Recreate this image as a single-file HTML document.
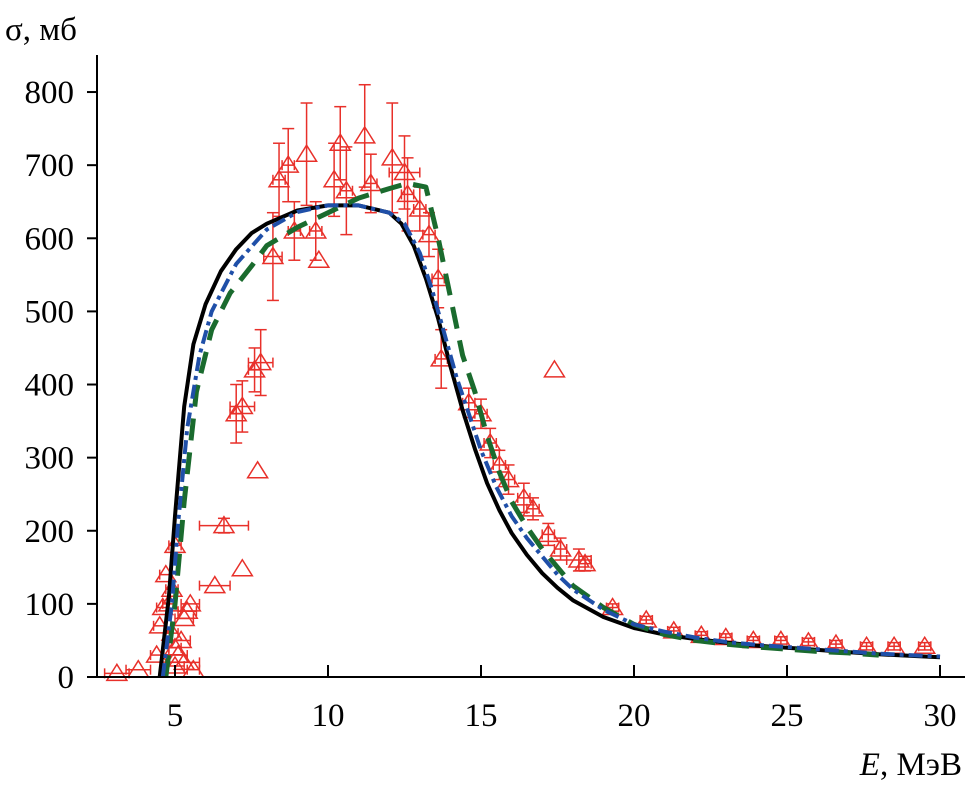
<!DOCTYPE html>
<html><head><meta charset="utf-8">
<style>
body{margin:0;background:#fff;}
svg text{font-family:"Liberation Serif","DejaVu Serif",serif;fill:#000;}
</style></head>
<body>
<svg id="chart" width="969" height="790" viewBox="0 0 969 790" xmlns="http://www.w3.org/2000/svg">
<g id="plot"></g>
<g id="axes"></g>
</svg>
<script>
const xTicks=[5,10,15,20,25,30];
const yTicks=[0,100,200,300,400,500,600,700,800];
const expE=[3.1,3.8,4.4,4.5,4.6,4.7,4.8,4.9,5.0,4.9,5.0,5.1,5.2,5.3,5.4,5.5,5.6,5.0,5.3,6.3,6.6,7.2,7.0,7.2,7.7,7.6,7.8,8.2,8.4,8.7,8.9,9.3,9.7,9.6,10.2,10.4,10.6,11.2,11.4,12.1,12.5,12.6,13.0,13.3,13.6,13.7,14.6,15.0,15.3,15.6,15.9,16.4,16.7,17.2,17.6,17.4,18.2,18.4,19.3,20.4,21.3,22.2,23.0,23.9,24.8,25.7,26.6,27.6,28.5,29.5];
const expS=[5,10,30,70,95,140,100,120,180,60,40,30,50,80,90,100,10,15,20,125,207,148,360,370,282,420,430,575,680,700,610,715,570,610,680,730,665,740,675,710,690,660,640,605,545,435,375,360,320,290,270,245,230,195,175,420,160,155,95,78,63,57,54,50,50,48,45,42,42,42];
const expDE=[0.4,0.4,0.2,0.2,0.2,0.2,0.2,0.2,0.2,0.2,0.2,0.3,0.3,0.3,0.3,0.3,0.2,0.3,0.5,0.5,0.8,0,0.2,0.4,0,0.2,0.4,0.3,0.2,0.2,0.2,0,0,0.2,0,0,0.2,0,0.2,0,0.5,0.2,0.2,0.2,0.2,0.2,0.2,0.2,0.2,0.2,0.2,0.2,0.2,0.2,0.2,0,0.4,0.2,0.2,0.2,0.2,0.2,0.2,0.2,0.2,0.2,0.2,0.2,0.2,0.2];
const expDS=[0,0,0,0,0,0,0,0,0,0,0,0,0,0,0,0,0,0,0,0,10,0,40,35,0,30,45,60,50,50,40,70,0,40,50,50,60,70,40,75,50,50,30,30,40,40,20,20,20,20,20,20,15,15,15,0,15,10,5,5,5,5,5,5,5,5,5,5,5,5];
const blackE=[4.5,4.8,5.0,5.3,5.6,6,6.5,7,7.5,8,9,10,11,12,12.4,12.8,13.2,13.6,14,14.4,14.8,15.2,15.6,16,16.5,17,17.5,18,19,20,21,22,23,24,25,26,27,28,29,30];
const blackS=[0,110,220,370,455,510,555,585,607,620,638,645,645,635,620,590,545,490,425,365,312,265,228,197,167,142,122,105,82,67,58,52,47,43,40,37,34,31,29,27];
const blueE=[4.6,4.9,5.1,5.4,5.8,6.2,7,8,9,10,11,12,12.5,13,13.4,13.8,14.2,14.6,15,15.5,16,16.5,17,17.5,18,19,20,21,22,23,24,25,26,27,28,29,30];
const blueS=[0,100,210,340,440,500,565,612,636,645,645,635,620,580,530,470,410,360,310,260,220,190,165,140,120,92,72,62,54,48,44,41,38,35,32,30,28];
const greenE=[4.7,5.0,5.3,5.7,6.2,6.8,7.5,8,9,10,11,12,12.6,13.2,13.6,14,14.4,14.8,15.2,15.6,16,16.5,17,17.5,18,19,20,21,22,23,24,25,26,27,28];
const greenS=[0,100,240,390,475,525,562,590,615,635,655,668,675,670,600,520,440,390,330,280,240,205,175,150,125,95,72,58,50,45,41,38,35,33,30];

const NS='http://www.w3.org/2000/svg';
const X0=97,X1=965,Y0=677,YT=55;
function sx(e){return 175+(e-5)*30.6;}
function sy(s){return 677-s*0.7312;}
function mk(tag,attrs,parent){const el=document.createElementNS(NS,tag);for(const k in attrs)el.setAttribute(k,attrs[k]);parent.appendChild(el);return el;}
const plot=document.getElementById('plot'),axes=document.getElementById('axes');

for(let i=0;i<expE.length;i++){
  const g=mk('g',{},plot);
  
  
  const cx=sx(expE[i]),cy=sy(expS[i]);
  const st={stroke:'#e8302a','stroke-width':1.5,fill:'none'};
  if(expDE[i]>0){const a=sx(expE[i]-expDE[i]),b=sx(expE[i]+expDE[i]);
    mk('line',Object.assign({x1:a,y1:cy,x2:b,y2:cy},st),g);
    mk('line',Object.assign({x1:a,y1:cy-5,x2:a,y2:cy+5},st),g);
    mk('line',Object.assign({x1:b,y1:cy-5,x2:b,y2:cy+5},st),g);}
  if(expDS[i]>0){const a=sy(expS[i]-expDS[i]),b=sy(expS[i]+expDS[i]);
    mk('line',Object.assign({x1:cx,y1:a,x2:cx,y2:b},st),g);
    mk('line',Object.assign({x1:cx-6,y1:a,x2:cx+6,y2:a},st),g);
    mk('line',Object.assign({x1:cx-6,y1:b,x2:cx+6,y2:b},st),g);}
  mk('polygon',Object.assign({points:`${cx},${cy-9} ${cx-10},${cy+7} ${cx+10},${cy+7}`},st),g);
}
function curve(E,S,attrs,name){
  const d=E.map((e,i)=>(i?'L':'M')+sx(e).toFixed(1)+','+sy(S[i]).toFixed(1)).join(' ');
  const p=mk('path',Object.assign({d:d,fill:'none','stroke-linejoin':'round'},attrs),plot);
  
  
}
curve(blackE,blackS,{stroke:'#000','stroke-width':4},'model-curve-solid');
curve(greenE,greenS,{stroke:'#1a6b2e','stroke-width':5,'stroke-dasharray':'22 12'},'model-curve-dashed');
curve(blueE,blueS,{stroke:'#1f4fa8','stroke-width':4,'stroke-dasharray':'14 5 4 5'},'model-curve-dashdot');

mk('line',{x1:X0,y1:YT,x2:X0,y2:Y0,stroke:'#000','stroke-width':2},axes);
mk('line',{x1:X0,y1:Y0,x2:X1,y2:Y0,stroke:'#000','stroke-width':2},axes);
xTicks.forEach(t=>{
  mk('line',{x1:sx(t),y1:Y0,x2:sx(t),y2:Y0-12,stroke:'#000','stroke-width':2},axes);
  const tx=mk('text',{x:sx(t),y:726,'text-anchor':'middle','font-size':33},axes);
  tx.textContent=t;
  
  
});
yTicks.forEach(t=>{
  mk('line',{x1:X0-10,y1:sy(t),x2:X0,y2:sy(t),stroke:'#000','stroke-width':2},axes);
  const tx=mk('text',{x:74,y:sy(t)+11,'text-anchor':'end','font-size':33},axes);
  tx.textContent=t;
  
  
});
</script>
<svg style="position:absolute;left:0;top:0" width="969" height="790">
<text x="5" y="40" font-size="33" font-family="Liberation Serif, serif">σ, мб</text>
<text x="962" y="775" text-anchor="end" font-size="33" font-family="Liberation Serif, serif"><tspan font-style="italic">E</tspan>, МэВ</text>
</svg>
</body></html>
